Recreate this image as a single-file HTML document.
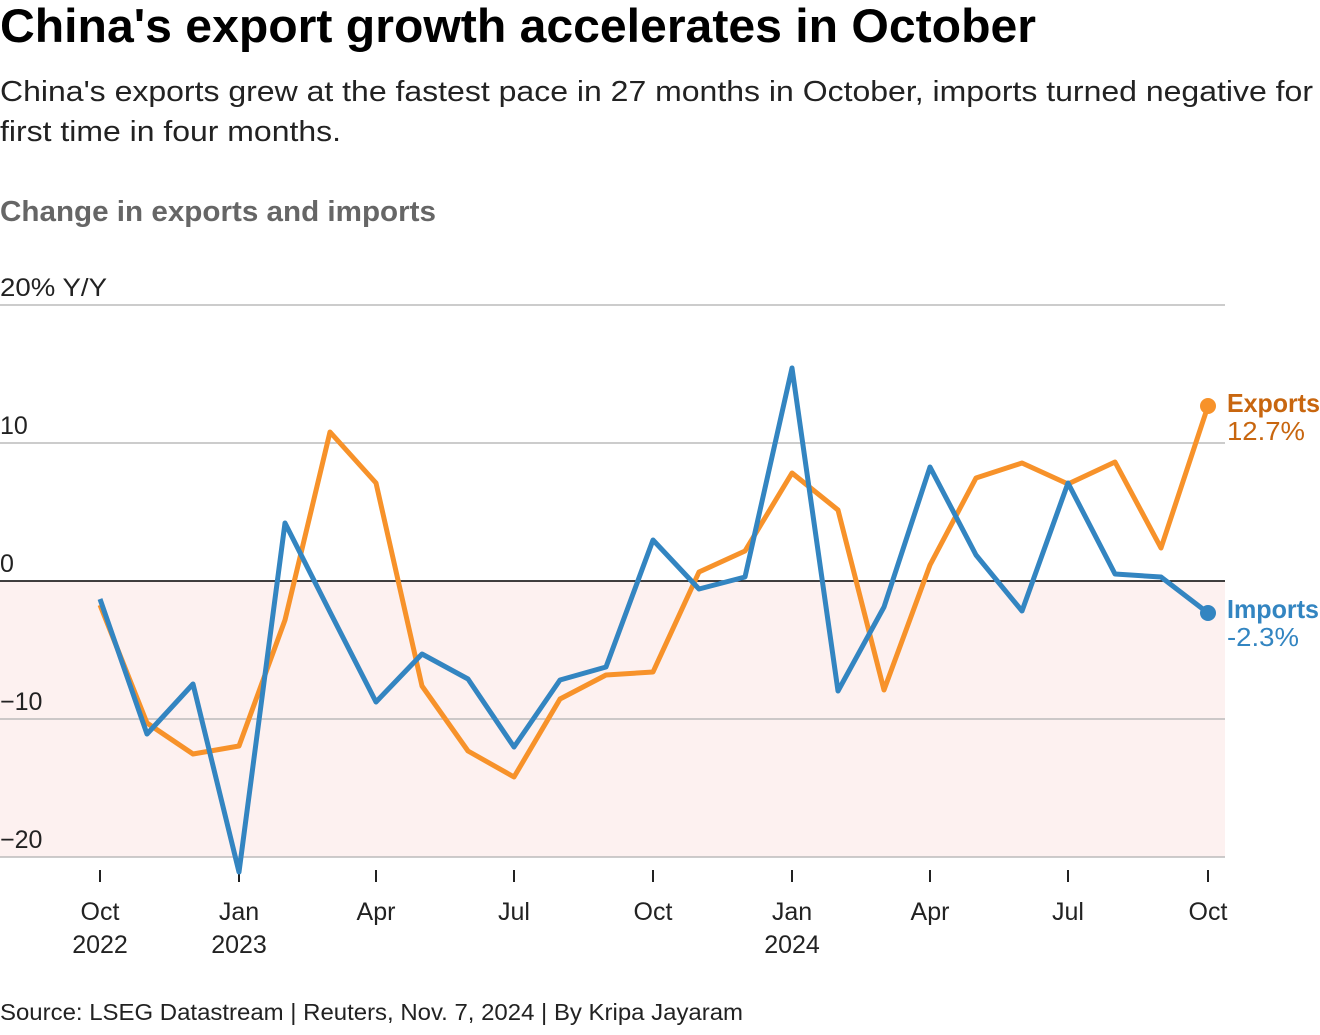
<!DOCTYPE html>
<html><head><meta charset="utf-8"><style>
body{margin:0;background:#fff;width:1320px;height:1030px;overflow:hidden;font-family:"Liberation Sans",Arial,sans-serif;}
</style></head><body>
<svg width="1320" height="1030" xmlns="http://www.w3.org/2000/svg" font-family="Liberation Sans, Arial, sans-serif">
<text x="0" y="42" font-size="47" font-weight="bold" fill="#000" textLength="1036" lengthAdjust="spacingAndGlyphs">China's export growth accelerates in October</text>
<text x="0" y="101" font-size="29" fill="#222" textLength="1313" lengthAdjust="spacingAndGlyphs">China's exports grew at the fastest pace in 27 months in October, imports turned negative for</text>
<text x="0" y="141" font-size="29" fill="#222" textLength="341" lengthAdjust="spacingAndGlyphs">first time in four months.</text>
<text x="0" y="221" font-size="29" font-weight="bold" fill="#666" textLength="436" lengthAdjust="spacingAndGlyphs">Change in exports and imports</text>
<rect x="0" y="581" width="1225" height="276" fill="#fdf1f0"/>
<g stroke="#bbb" stroke-width="1.5">
<line x1="0" y1="305" x2="1225" y2="305"/>
<line x1="0" y1="443" x2="1225" y2="443"/>
<line x1="0" y1="719" x2="1225" y2="719"/>
<line x1="0" y1="857" x2="1225" y2="857"/>
</g>
<line x1="0" y1="581" x2="1225" y2="581" stroke="#000" stroke-width="1.5"/>
<g font-size="25" fill="#222">
<text x="0" y="296" textLength="107" lengthAdjust="spacingAndGlyphs">20% Y/Y</text>
<text x="0" y="434">10</text>
<text x="0" y="572">0</text>
<text x="0" y="710">−10</text>
<text x="0" y="848">−20</text>
</g>
<g stroke="#222" stroke-width="2">
<line x1="100" y1="870" x2="100" y2="882"/><line x1="239" y1="870" x2="239" y2="882"/>
<line x1="376" y1="870" x2="376" y2="882"/><line x1="514" y1="870" x2="514" y2="882"/>
<line x1="653" y1="870" x2="653" y2="882"/><line x1="792" y1="870" x2="792" y2="882"/>
<line x1="930" y1="870" x2="930" y2="882"/><line x1="1068" y1="870" x2="1068" y2="882"/>
<line x1="1208" y1="870" x2="1208" y2="882"/>
</g>
<g font-size="25" fill="#222" text-anchor="middle">
<text x="100" y="920">Oct</text><text x="100" y="953">2022</text>
<text x="239" y="920">Jan</text><text x="239" y="953">2023</text>
<text x="376" y="920">Apr</text><text x="514" y="920">Jul</text><text x="653" y="920">Oct</text>
<text x="792" y="920">Jan</text><text x="792" y="953">2024</text>
<text x="930" y="920">Apr</text><text x="1068" y="920">Jul</text><text x="1208" y="920">Oct</text>
</g>
<polyline fill="none" stroke="#f7922a" stroke-width="5" stroke-linejoin="round" points="100,605 147,723 193,754 239,746 285,620 330,432 376,483 422,686 468,751 514,777 560,699 606,675 653,672 699,572 745,551 792,473 838,510 884,690 930,565 976,478 1022,463 1068,484 1115,462 1161,548 1208,406"/>
<polyline fill="none" stroke="#3385c1" stroke-width="5" stroke-linejoin="round" points="100,599 147,734 193,684 239,872 285,523 330,612 376,702 422,654 468,679 514,747 560,680 606,667 653,540 699,589 745,577 792,368 838,691 884,607 930,467 976,555 1022,611 1068,483 1115,574 1161,577 1208,613"/>
<circle cx="1208" cy="406" r="8" fill="#f7922a"/>
<circle cx="1208" cy="613" r="8" fill="#3385c1"/>
<text x="1227" y="412" font-size="26" font-weight="bold" fill="#c8660f" textLength="93" lengthAdjust="spacingAndGlyphs">Exports</text>
<text x="1227" y="440" font-size="26" fill="#c8660f" textLength="78" lengthAdjust="spacingAndGlyphs">12.7%</text>
<text x="1227" y="618" font-size="26" font-weight="bold" fill="#3385c1" textLength="92" lengthAdjust="spacingAndGlyphs">Imports</text>
<text x="1227" y="646" font-size="26" fill="#3385c1" textLength="72" lengthAdjust="spacingAndGlyphs">-2.3%</text>
<text x="0" y="1020" font-size="23" fill="#222" textLength="743" lengthAdjust="spacingAndGlyphs">Source: LSEG Datastream | Reuters, Nov. 7, 2024 | By Kripa Jayaram</text>
</svg>
</body></html>
